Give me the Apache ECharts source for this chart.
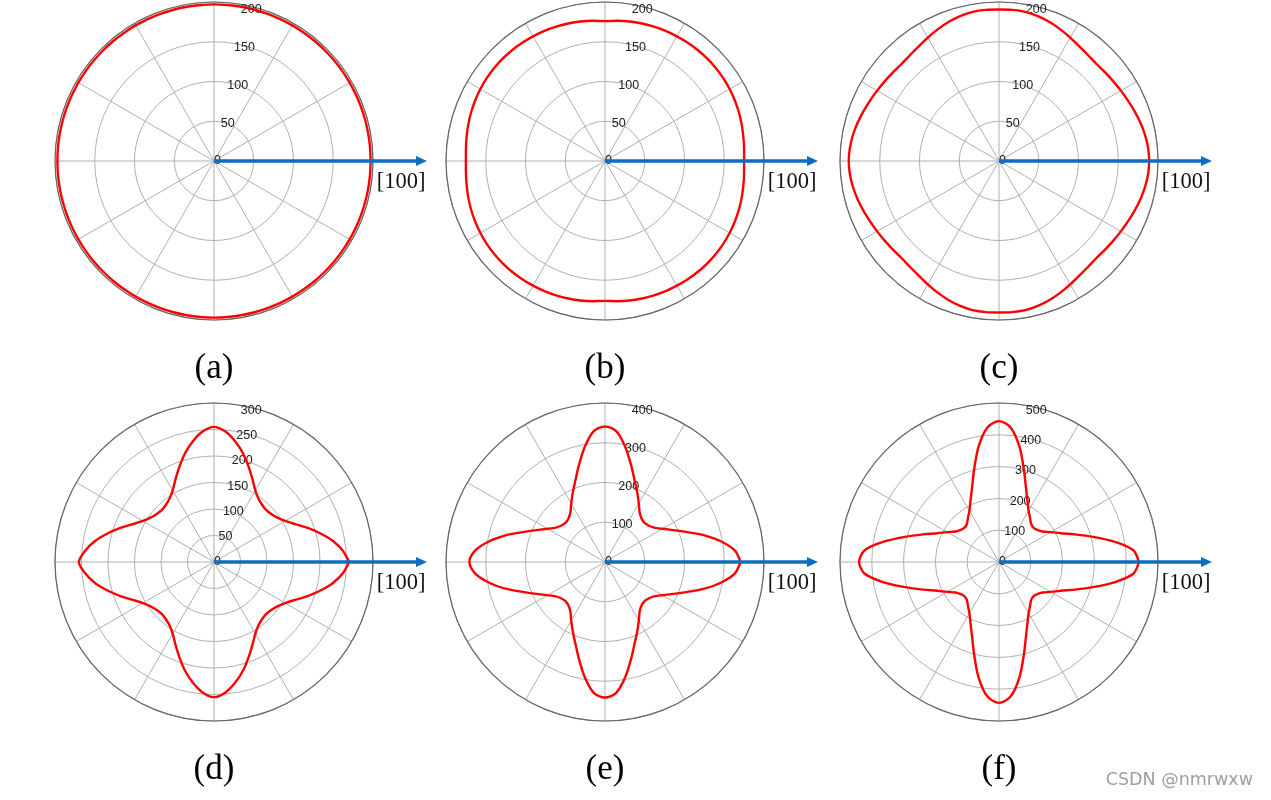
<!DOCTYPE html>
<html>
<head>
<meta charset="utf-8">
<title>polar</title>
<script src="https://cdn.jsdelivr.net/npm/echarts@6/dist/echarts.min.js"></script>
<style>
    html, body { margin: 0; padding: 0; background: #fff; }
    #polarFigure { width: 1271px; height: 800px; }
</style>
</head>
<body>
<div id="polarFigure"></div>
<script>
// 第一象限的角度 (度), 其余象限按图形的对称性镜像
var angles = [0, 5, 10, 15, 20, 25, 30, 35, 40, 45, 50, 55, 60, 65, 70, 75, 80, 85, 90];

// 各子图在上述角度处读出的半径
var radiusA = [197, 197, 197, 197, 197, 197, 197, 197, 197, 197, 197, 197, 197, 197, 197, 197, 197, 197, 197];
var radiusB = [175, 175.6, 176.7, 178, 179.2, 180.2, 181, 181.6, 181.9, 182, 181.9, 181.5, 181, 180.5, 179.8, 179, 178.2, 177, 176];
var radiusC = [189, 188.3, 186.6, 184.3, 181.7, 179.2, 177, 175.2, 173.8, 173, 174, 176, 179.2, 182.7, 186, 188.7, 190.5, 190.8, 190.5];
var radiusD = [255, 244, 228, 208, 188, 169, 155, 146, 141, 139, 141, 146, 156, 172, 191, 212, 231, 247, 255];
var radiusE = [341, 328, 297, 259, 220, 190, 167, 151, 143, 140, 143, 152, 170, 192, 218, 253, 294, 330, 341];
var radiusF = [440, 424, 368, 306, 254, 214, 188, 167, 157, 153, 157, 170, 186, 212, 248, 302, 369, 424, 443];

var panelNames = ['(a)', '(b)', '(c)', '(d)', '(e)', '(f)'];
var axisMax = [200, 200, 200, 300, 400, 500];
var axisStep = [50, 50, 50, 50, 100, 100];
var directionLabel = '[100]';
var watermarkText = 'CSDN @nmrwxw';

/**
 * @description 页面初始化加载事件
 */
window.onload = function () {
    polarFigureChart();
};

/**
 * 由第一象限读数镜像出整条闭合曲线 [半径, 角度]
 */
function mirrorQuadrant(values) {
    var points = [];
    var n = angles.length;
    var i;
    for (i = 0; i < n; i++) points.push([values[i], angles[i]]);
    for (i = n - 2; i >= 0; i--) points.push([values[i], 180 - angles[i]]);
    for (i = 1; i < n; i++) points.push([values[i], 180 + angles[i]]);
    for (i = n - 2; i >= 0; i--) points.push([values[i], 360 - angles[i]]);
    return points;
}

/**
 * 隐藏的角度轴 (只用来定位)
 */
function hiddenAngleAxis(index, startAngle) {
    return {
        polarIndex: index, type: 'value', min: 0, max: 360, startAngle: startAngle, clockwise: false,
        axisLine: {show: false}, axisTick: {show: false}, axisLabel: {show: false},
        splitLine: {show: false}
    };
}

/**
 * 六个极坐标子图
 */
function polarFigureChart() {
    var myChart = echarts.init(document.getElementById('polarFigure'), null, {renderer: 'canvas'});
    var curves = [radiusA, radiusB, radiusC, radiusD, radiusE, radiusF];

    var panelX = [214, 605, 999, 214, 605, 999];
    var panelY = [161, 161, 161, 562, 562, 562];
    var plotRadius = 159;
    var labelRadius = 154;       // 刻度标签略靠内
    var arrowRadius = 207.5;     // 箭头三角形中心
    var arrowColor = '#0a6fc2';
    var gridColor = '#b0b0b0';
    var rimColor = '#666666';

    var polar = [], angleAxis = [], radiusAxis = [], series = [], title = [];
    var n = panelNames.length;

    for (var i = 0; i < n; i++) {
        var center = [panelX[i], panelY[i]];
        // 网格 (0..n-1)
        polar[i] = {center: center, radius: plotRadius};
        angleAxis[i] = {
            polarIndex: i, type: 'value', min: 0, max: 360, interval: 30,
            startAngle: 0, clockwise: false,
            axisLine: {show: true, lineStyle: {color: rimColor, width: 1.2}},
            axisTick: {show: false}, axisLabel: {show: false},
            splitLine: {show: true, lineStyle: {color: gridColor, width: 1}}
        };
        radiusAxis[i] = {
            polarIndex: i, type: 'value', min: 0, max: axisMax[i], interval: axisStep[i],
            axisLine: {show: false}, axisTick: {show: false}, axisLabel: {show: false},
            splitLine: {show: true, lineStyle: {color: gridColor, width: 1}}
        };
        // 刻度标签 (n..2n-1), 径向轴放在 80 度方向
        polar[n + i] = {center: center, radius: labelRadius};
        angleAxis[n + i] = hiddenAngleAxis(n + i, 80);
        radiusAxis[n + i] = {
            polarIndex: n + i, type: 'value', min: 0, max: axisMax[i], interval: axisStep[i],
            axisLine: {show: false}, axisTick: {show: false}, splitLine: {show: false},
            axisLabel: {
                show: true, margin: 0, align: 'left', verticalAlign: 'middle',
                fontFamily: 'Liberation Sans', fontSize: 12.5, color: '#222'
            }
        };
        // [100] 方向箭头 (2n..3n-1)
        polar[2 * n + i] = {center: center, radius: arrowRadius};
        angleAxis[2 * n + i] = hiddenAngleAxis(2 * n + i, 0);
        radiusAxis[2 * n + i] = {
            polarIndex: 2 * n + i, type: 'value', min: 0, max: 1,
            axisLine: {show: false}, axisTick: {show: false}, axisLabel: {show: false},
            splitLine: {show: false}
        };

        series.push({
            type: 'line', coordinateSystem: 'polar', polarIndex: i,
            data: mirrorQuadrant(curves[i]),
            smooth: 0.3, symbol: 'none', silent: true, z: 3,
            lineStyle: {color: '#ff0000', width: 2.4}
        });
        series.push({
            type: 'line', coordinateSystem: 'polar', polarIndex: 2 * n + i,
            clip: false, silent: true, z: 4, showSymbol: true, symbol: 'none',
            lineStyle: {color: arrowColor, width: 3.5},
            itemStyle: {color: arrowColor},
            data: [
                [0, 0],
                {value: [1, 0], symbol: 'triangle', symbolSize: [10, 11], symbolRotate: -90}
            ]
        });

        title.push({
            text: panelNames[i], left: panelX[i], top: panelY[i] + 190, textAlign: 'center', padding: 0,
            textStyle: {fontFamily: 'Liberation Serif', fontSize: 35, fontWeight: 'normal', color: '#000'}
        });
        title.push({
            text: directionLabel, left: panelX[i] + 187, top: panelY[i] + 10, textAlign: 'center', padding: 0,
            textStyle: {fontFamily: 'Liberation Serif', fontSize: 22.5, fontWeight: 'normal', color: '#111'}
        });
    }
    title.push({
        text: watermarkText, right: 18, top: 771, padding: 0,
        textStyle: {fontFamily: 'DejaVu Sans', fontSize: 17.5, fontWeight: 'normal', color: '#9e9e9e'}
    });

    var option = null;
    option = {
        animation: false,
        backgroundColor: '#ffffff',
        title: title,
        polar: polar,
        angleAxis: angleAxis,
        radiusAxis: radiusAxis,
        series: series
    };
    if (option && typeof option === "object") {
        myChart.setOption(option, true);
    }
    window.addEventListener('resize', function () {
        myChart.resize();
    });
}
</script>
</body>
</html>
